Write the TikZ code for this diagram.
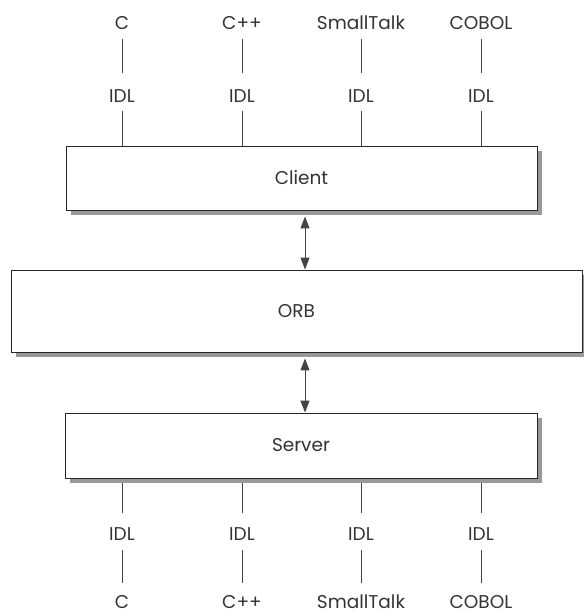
\documentclass[tikz,border=0pt]{standalone}
\usepackage{fontspec}
\setmainfont{Poppins}
\usetikzlibrary{arrows.meta,shadows}
\definecolor{ink}{HTML}{333333}
\definecolor{wirec}{HTML}{444444}
\begin{document}
\begin{tikzpicture}[x=1pt,y=-1pt,
  font=\fontsize{18.5}{21}\selectfont, text=ink,
  layer/.style={draw=black!85, line width=0.9pt, fill=white, inner sep=0pt,
    drop shadow={shadow xshift=4.5pt, shadow yshift=-4.5pt, fill=black!40, opacity=1}},
  lbl/.style={inner sep=0pt, anchor=base},
  wire/.style={draw=wirec, line width=0.9pt},
  link/.style={draw=wirec, line width=1pt, {Triangle[length=12pt,width=9pt]}-{Triangle[length=12pt,width=9pt]}}]
\useasboundingbox (0,0) rectangle (584,614);

% the three layers
\node[layer, minimum width=471pt, minimum height=64pt] (client) at (301.5,178) {Client};
\node[layer, minimum width=571pt, minimum height=82pt] (orb) at (296.5,311) {ORB};
\node[layer, minimum width=472pt, minimum height=65pt] (server) at (301,445.5) {Server};

% language bindings above the client and below the server
\foreach \x/\name/\lang in {122/a/C, 242/b/C++, 361/c/SmallTalk, 481/d/COBOL} {
  \node[lbl] (ct\name) at (\x,29) {\lang};
  \node[lbl] (ci\name) at (\x,102) {IDL};
  \draw[wire, shorten <=10pt, shorten >=29pt] (ct\name.base) -- (ci\name.base);
  \draw[wire, shorten <=9pt] (ci\name.base) -- (ci\name.base |- client.north);
  \node[lbl] (si\name) at (\x,540) {IDL};
  \node[lbl] (sb\name) at (\x,608) {\lang};
  \draw[wire, shorten <=5pt, shorten >=27pt] (si\name.base |- server.south) -- (si\name.base);
  \draw[wire, shorten <=10pt, shorten >=25pt] (si\name.base) -- (sb\name.base);
}

% requests through the broker
\coordinate (ax) at (305,0);
\draw[link, shorten <=6pt] (client.south -| ax) -- (orb.north -| ax);
\draw[link, shorten <=6pt] (orb.south -| ax) -- (server.north -| ax);
\end{tikzpicture}
\end{document}
